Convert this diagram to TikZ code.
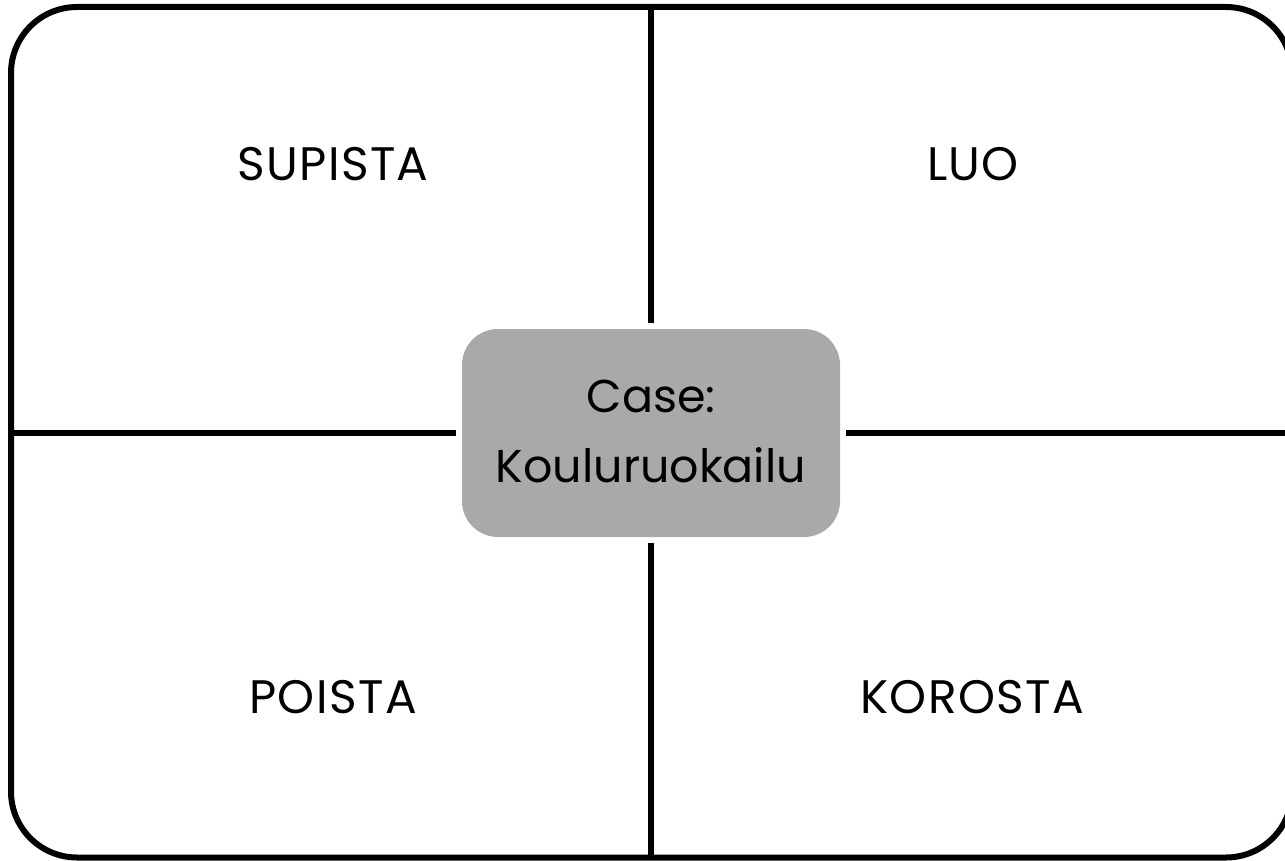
\documentclass[tikz,border=0pt]{standalone}
\usepackage{fontspec}
\setmainfont{Poppins}
\newfontfamily\lblfont[LetterSpace=3]{Poppins}
\definecolor{boxgray}{HTML}{A9A9A9}
\tikzset{
  frame/.style={draw=black, line width=6pt, rounded corners=66pt},
  divider/.style={draw=black, line width=6pt},
  centerbox/.style={fill=boxgray, rounded corners=36pt, minimum width=378pt, minimum height=208pt, inner sep=0pt, align=center, font=\fontsize{46}{70}\selectfont},
  label/.style={font=\lblfont\fontsize{47}{50}\selectfont, inner sep=0pt}
}
\begin{document}
\begin{tikzpicture}[x=1pt,y=-1pt]
\useasboundingbox (0,0) rectangle (1285,861);
\clip (0,0) rectangle (1285,861);
\fill[white] (0,0) rectangle (1285,861);
\draw[frame] (11,7) rectangle (1292,857.5);
\coordinate (top) at (651,7);
\coordinate (bot) at (651,857.5);
\coordinate (lft) at (11,433);
\coordinate (rgt) at (1292,433);
\node[centerbox] (case) at (651,433) {};
\node[align=center, inner sep=0pt, font=\fontsize{46}{70}\selectfont] (casetext) at (651,431) {Case:\\Kouluruokailu};
\draw[divider] (top) -- ([yshift=6pt]case.north);
\draw[divider] (bot) -- ([yshift=-6pt]case.south);
\draw[divider] (lft) -- ([xshift=-6pt]case.west);
\draw[divider] (rgt) -- ([xshift=6pt]case.east);
\node[label] (supista) at (333,164) {SUPISTA};
\node[label] (luo) at (973,164) {LUO};
\node[label] (poista) at (333,697) {POISTA};
\node[label] (korosta) at (972,697) {KOROSTA};
\end{tikzpicture}
\end{document}
